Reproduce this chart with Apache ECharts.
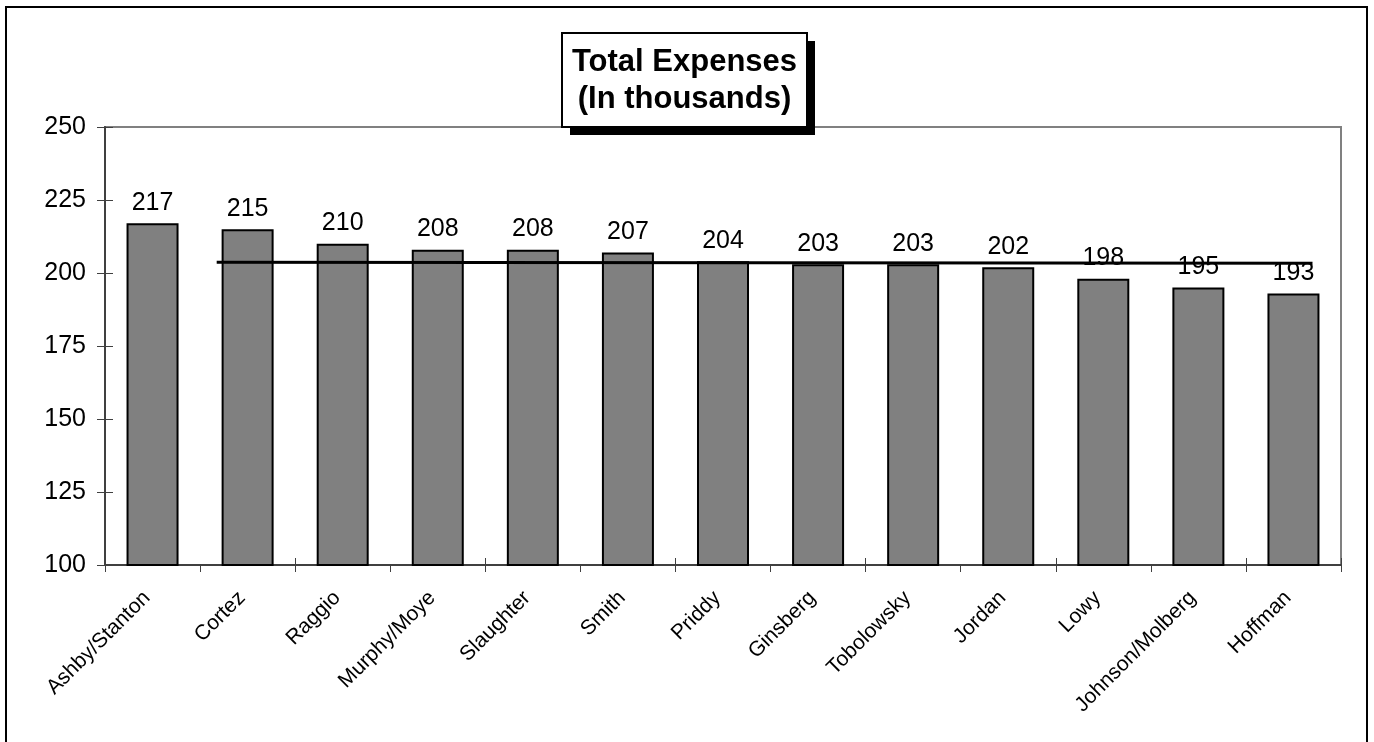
<!DOCTYPE html>
<html>
<head>
<meta charset="utf-8">
<script src="https://cdn.jsdelivr.net/npm/echarts@6/dist/echarts.min.js"></script>
<style>
html,body{margin:0;padding:0;background:#fff;}
#chart{width:1374px;height:742px;}
</style>
</head>
<body>
<div id="chart"></div>
<script>
var categories = ['Ashby/Stanton','Cortez','Raggio','Murphy/Moye','Slaughter','Smith','Priddy','Ginsberg','Tobolowsky','Jordan','Lowy','Johnson/Molberg','Hoffman'];
var expenses = [217,215,210,208,208,207,204,203,203,202,198,195,193];
var titleLines = ['Total Expenses','(In thousands)'];
// reference line, x in category units (0..13), y in data units
var refLineX = [1.175, 12.70];
var refLineY = [203.65, 203.35];

var FONT = '"Liberation Sans", Arial, sans-serif';
var chart = echarts.init(document.getElementById('chart'), null, {renderer:'canvas'});
var refLineData = refLineX.map(function(x,i){return [x, refLineY[i]];});

var option = {
  backgroundColor:'#ffffff',
  animation:false,
  grid:{left:105, right:33, top:127, bottom:177, show:true, borderColor:'#808080', borderWidth:2, backgroundColor:'transparent'},
  xAxis:[
    {type:'category', data:categories, position:'bottom',
     axisLine:{lineStyle:{color:'#404040', width:2}},
     axisTick:{show:true, length:7, lineStyle:{color:'#404040', width:1}},
     axisLabel:{rotate:45, fontSize:21, fontFamily:FONT, color:'#000', margin:24, interval:0, padding:[0,8,0,0]},
     splitLine:{show:false}},
    {type:'category', data:categories, position:'bottom', offset:0,
     axisLine:{show:false},
     axisTick:{show:true, inside:true, length:7, lineStyle:{color:'#404040', width:1}},
     axisLabel:{show:false}, splitLine:{show:false}},
    {type:'value', min:0, max:13, position:'top', show:false}
  ],
  yAxis:[
    {type:'value', min:100, max:250, interval:25,
     axisLine:{show:true, lineStyle:{color:'#404040', width:2}},
     axisTick:{show:true, length:8, lineStyle:{color:'#404040', width:1}},
     axisLabel:{fontSize:25, fontFamily:FONT, color:'#000', margin:19},
     splitLine:{show:false}},
    {type:'value', min:100, max:250, interval:25, position:'left', offset:0,
     axisLine:{show:false},
     axisTick:{show:true, inside:true, length:8, lineStyle:{color:'#404040', width:1}},
     axisLabel:{show:false}, splitLine:{show:false}}
  ],
  series:[
    {type:'bar', data:expenses, xAxisIndex:0, yAxisIndex:0, barWidth:52,
     itemStyle:{color:'#808080', borderColor:'#000', borderWidth:2},
     label:{show:true, position:'top', distance:8, fontSize:25, fontFamily:FONT, color:'#000'}},
    {type:'line', data:refLineData, xAxisIndex:2, yAxisIndex:0, symbol:'none', z:5,
     lineStyle:{color:'#000', width:3}}
  ],
  graphic:[
    {type:'rect', z:0, silent:true,
     shape:{x:6, y:7, width:1361, height:745}, style:{fill:'none', stroke:'#000', lineWidth:2}},
    {type:'rect', z:100, silent:true,
     shape:{x:570, y:41, width:245, height:94}, style:{fill:'#000'}},
    {type:'rect', z:101, silent:true,
     shape:{x:562, y:33, width:245, height:94}, style:{fill:'#fff', stroke:'#000', lineWidth:2}},
    {type:'text', z:102, silent:true, x:684.5, y:81,
     style:{text:titleLines.join('\n'), fontSize:31, fontWeight:'bold', fontFamily:FONT, fill:'#000',
            align:'center', verticalAlign:'middle', lineHeight:37}}
  ]
};
chart.setOption(option);
</script>
</body>
</html>
